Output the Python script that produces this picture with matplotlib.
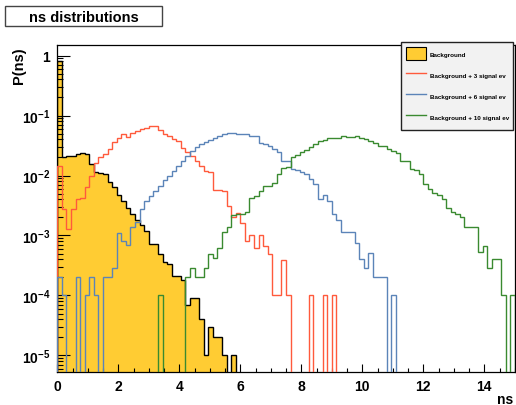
import numpy as np
import matplotlib
matplotlib.use('Agg')
import matplotlib.pyplot as plt
from matplotlib.patches import Rectangle, Patch
from matplotlib.lines import Line2D
from matplotlib.ticker import LogLocator, MultipleLocator, NullFormatter, FuncFormatter

plt.rcParams['font.family'] = ['Liberation Sans', 'DejaVu Sans']
plt.rcParams['font.weight'] = 'bold'
plt.rcParams['mathtext.fontset'] = 'custom'
plt.rcParams['mathtext.rm'] = 'Liberation Sans:bold'
plt.rcParams['mathtext.bf'] = 'Liberation Sans:bold'
plt.rcParams['mathtext.it'] = 'Liberation Sans:bold'

# histogram binning: 100 bins from 0 to 15
ns_edges = np.linspace(0.0, 15.0, 101)

background = [
    0.80, 0.020, 0.021, 0.021, 0.023, 0.024, 0.023, 0.0155, 0.0113, 0.011,
    0.0105, 0.0077, 0.0065, 0.0047, 0.0038, 0.0029, 0.0023, 0.0018, 0.0015, 0.0012,
    7.2e-4, 7.2e-4, 4.9e-4, 3.6e-4, 3.4e-4, 2.1e-4, 2.1e-4, 1.8e-4, 7e-5, 9e-5,
    9e-5, 4e-5, 1e-5, 3e-5, 2e-5, 2e-5, 1e-5, 0, 1e-5, 0,
    0, 0, 0, 0, 0, 0, 0, 0, 0, 0,
    0, 0, 0, 0, 0, 0, 0, 0, 0, 0,
    0, 0, 0, 0, 0, 0, 0, 0, 0, 0,
    0, 0, 0, 0, 0, 0, 0, 0, 0, 0,
    0, 0, 0, 0, 0, 0, 0, 0, 0, 0,
    0, 0, 0, 0, 0, 0, 0, 0, 0, 0,
]

sig3 = [
    0.0143, 0.0028, 0.0013, 0.0028, 0.0040, 0.0042, 0.0065, 0.0099, 0.0164, 0.020,
    0.0226, 0.028, 0.036, 0.043, 0.049, 0.044, 0.052, 0.055, 0.060, 0.063,
    0.068, 0.066, 0.058, 0.050, 0.045, 0.040, 0.037, 0.029, 0.0245, 0.021,
    0.0177, 0.0146, 0.012, 0.0113, 0.0058, 0.0058, 0.0056, 0.0031, 0.0020, 0.0024,
    0.0016, 8.2e-4, 1.0e-3, 6.3e-4, 1.0e-3, 6.7e-4, 4.9e-4, 1e-4, 1e-4, 3.9e-4,
    1e-4, 0, 0, 0, 0, 1e-4, 0, 0, 1e-4, 0,
    1e-4, 0, 0, 0, 0, 0, 0, 0, 0, 0,
    0, 0, 0, 0, 0, 0, 0, 0, 0, 0,
    0, 0, 0, 0, 0, 0, 0, 0, 0, 0,
    0, 0, 0, 0, 0, 0, 0, 0, 0, 0,
]

sig6 = [
    2e-4, 1e-4, 0, 0, 2e-4, 0, 1e-4, 2e-4, 1e-4, 0,
    2e-4, 2e-4, 2.9e-4, 0.0011, 8.2e-4, 7e-4, 0.0014, 0.0017, 0.0028, 0.0037,
    0.0045, 0.0055, 0.0068, 0.0085, 0.0100, 0.012, 0.0146, 0.0177, 0.0214, 0.026,
    0.0295, 0.0336, 0.0357, 0.0395, 0.0415, 0.046, 0.049, 0.051, 0.051, 0.050,
    0.050, 0.0484, 0.045, 0.045, 0.035, 0.033, 0.031, 0.028, 0.0245, 0.0175,
    0.0172, 0.013, 0.0125, 0.0116, 0.0106, 0.0087, 0.0072, 0.0040, 0.0047, 0.0038,
    0.0023, 0.0018, 0.00113, 0.00113, 0.00113, 7.4e-4, 4.1e-4, 2.9e-4, 5.1e-4, 2e-4,
    2e-4, 2e-4, 0, 1e-4, 0, 0, 0, 0, 0, 0,
    0, 0, 0, 0, 0, 0, 0, 0, 0, 0,
    0, 0, 0, 0, 0, 0, 0, 0, 0, 0,
]

sig10 = [
    0, 0, 0, 0, 0, 0, 0, 0, 0, 0,
    0, 0, 0, 0, 0, 0, 0, 0, 0, 0,
    0, 0, 1e-4, 0, 0, 0, 0, 0, 2e-4, 2.9e-4,
    2e-4, 2e-4, 2.9e-4, 5e-4, 4.2e-4, 6.2e-4, 0.00113, 0.00137, 0.0022, 0.0023,
    0.0023, 0.0025, 0.0043, 0.0045, 0.0055, 0.0068, 0.0068, 0.0075, 0.0105, 0.0135,
    0.0137, 0.0205, 0.0218, 0.0245, 0.027, 0.030, 0.034, 0.037, 0.039, 0.042,
    0.043, 0.042, 0.045, 0.044, 0.044, 0.045, 0.042, 0.040, 0.037, 0.035,
    0.031, 0.031, 0.028, 0.026, 0.024, 0.0177, 0.0177, 0.0129, 0.0125, 0.0106,
    0.0072, 0.006, 0.0052, 0.0047, 0.004, 0.0029, 0.0025, 0.0023, 0.002, 0.0014,
    0.0014, 0.0014, 5.3e-4, 6.7e-4, 2.9e-4, 4.1e-4, 4.1e-4, 1e-4, 0, 1e-4,
]

labels = ['Background', 'Background + 3 signal ev',
          'Background + 6 signal ev', 'Background + 10 signal ev']
col_bkg = '#ffcc33'
col_sig3 = '#ff5a3c'
col_sig6 = '#5b84b8'
col_sig10 = '#3a8a30'

floor = 1e-9  # empty bins drawn down past the frame


def fix_empty(vals):
    v = np.asarray(vals, dtype=float)
    return np.where(v > 0, v, floor)


fig = plt.figure(figsize=(5.16, 4.06), dpi=100)
ax = fig.add_axes([0.111, 0.0813, 0.8867, 0.8054])

bkg = fix_empty(background)
ax.stairs(bkg, ns_edges, fill=True, color=col_bkg, baseline=floor, zorder=1)
ax.stairs(bkg, ns_edges, color='black', lw=1.0, baseline=floor, zorder=2)
ax.stairs(fix_empty(sig3), ns_edges, color=col_sig3, lw=1.0, baseline=floor, zorder=3)
ax.stairs(fix_empty(sig6), ns_edges, color=col_sig6, lw=1.0, baseline=floor, zorder=3)
ax.stairs(fix_empty(sig10), ns_edges, color=col_sig10, lw=1.0, baseline=floor, zorder=3)

ax.set_xlim(0, 15)
ax.set_yscale('log')
ax.set_ylim(5.3e-6, 1.5)

ax.xaxis.set_major_locator(MultipleLocator(2))
ax.xaxis.set_minor_locator(MultipleLocator(0.5))
ax.yaxis.set_major_locator(LogLocator(base=10, numticks=12))
ax.yaxis.set_minor_locator(LogLocator(base=10, subs=np.arange(2, 10), numticks=12))
ax.yaxis.set_minor_formatter(NullFormatter())


def decade_label(v, pos):
    e = int(round(np.log10(v)))
    return '1' if e == 0 else r'$10^{%d}$' % e


ax.yaxis.set_major_formatter(FuncFormatter(decade_label))

ax.tick_params(axis='both', which='both', direction='in', top=False, right=False,
               width=0.8, labelsize=10)
ax.tick_params(axis='y', which='major', length=9, pad=5)
ax.tick_params(axis='y', which='minor', length=4.5)
ax.tick_params(axis='x', which='major', length=6, pad=5)
ax.tick_params(axis='x', which='minor', length=3)
for sp in ax.spines.values():
    sp.set_linewidth(0.9)

# title box
fig.add_artist(Rectangle((5 / 516, 1 - 27 / 406), 157 / 516, 20 / 406,
                         transform=fig.transFigure, fc='white', ec='#444444', lw=1.0))
fig.text(83.5 / 516, 1 - 17.5 / 406, 'ns distributions', ha='center', va='center',
         fontsize=10.5)

fig.text(19 / 516, 1 - 47 / 406, 'P(ns)', rotation=90, ha='center', va='top', fontsize=10.5)
fig.text(513 / 516, 2 / 406, 'ns', ha='right', va='baseline', fontsize=10)

handles = [Patch(fc=col_bkg, ec='black', lw=0.8),
           Line2D([], [], color=col_sig3, lw=1.0),
           Line2D([], [], color=col_sig6, lw=1.0),
           Line2D([], [], color=col_sig10, lw=1.0)]
leg = fig.legend(handles, labels, loc='upper left',
                 bbox_to_anchor=(400.7 / 516, 1 - 43 / 406, 112.3 / 516, 0),
                 mode='expand', fontsize=4.5, frameon=True, fancybox=False,
                 edgecolor='#222222', facecolor='#f2f2f2', framealpha=1,
                 borderpad=0.86, handlelength=3.2, handleheight=2.85,
                 labelspacing=1.3, handletextpad=0.55, borderaxespad=0)
leg.get_frame().set_linewidth(1.0)

fig.savefig('out.png', dpi=100)
